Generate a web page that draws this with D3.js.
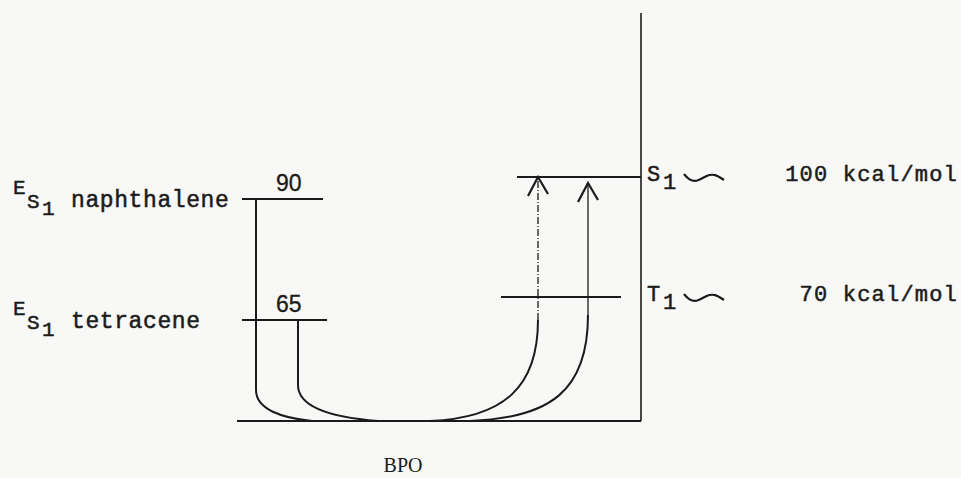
<!DOCTYPE html>
<html>
<head>
<meta charset="utf-8">
<script src="https://cdn.jsdelivr.net/npm/d3@7"></script>
<style>
  body { margin: 0; background: #f8f8f6; }
  svg { display: block; }
  .type { font-family: "Liberation Mono", monospace; fill: #1b1b1b; stroke: #1b1b1b; stroke-width: 0.5px; }
  .num { font-family: "Liberation Sans", sans-serif; fill: #1b1b1b; stroke: #1b1b1b; stroke-width: 0.3px; }
  .serif { font-family: "Liberation Serif", serif; fill: #1b1b1b; }
</style>
</head>
<body>
<svg width="961" height="478"></svg>
<script>
// donor singlet levels (kcal/mol)
var donorNames = ["naphthalene", "tetracene"];
var donorEnergies = [90, 65];

// BPO states
var bpoStates = ["S", "T"];
var bpoEnergies = [100, 70];
var bpoLabels = ["100 kcal/mol", "70 kcal/mol"];

var groundLabel = "BPO";

var svg = d3.select("svg"),
  width = +svg.attr("width"),
  height = +svg.attr("height");

// the drawing is not to scale, so the energy axis is piecewise
var y = d3.scaleLinear()
  .domain([0, 65, 70, 90, 100])
  .range([421, 320, 297, 199, 177]);

var ink = "#1b1b1b";
var axisX = 641, axisTop = 13, baseLeft = 237;

var g = svg.append("g");

// ground line and the BPO axis
g.append("line")
  .attr("x1", baseLeft).attr("x2", axisX)
  .attr("y1", y(0)).attr("y2", y(0))
  .attr("stroke", ink).attr("stroke-width", 2.2);

g.append("line")
  .attr("x1", axisX).attr("x2", axisX)
  .attr("y1", axisTop).attr("y2", y(0))
  .attr("stroke", ink).attr("stroke-width", 1.6);

// donor levels
var donorLine = [[242, 323], [242, 327]];
var donorDrop = [256, 298];

donorEnergies.forEach(function(e, i) {
  g.append("line")
    .attr("x1", donorLine[i][0]).attr("x2", donorLine[i][1])
    .attr("y1", y(e)).attr("y2", y(e))
    .attr("stroke", ink).attr("stroke-width", 1.8);

  g.append("text").attr("class", "num")
    .attr("x", 276).attr("y", y(e) - 8)
    .style("font-size", "23px")
    .text(e);

  // E_S1 name
  g.append("text").attr("class", "type")
    .attr("x", 13).attr("y", y(e) - 5)
    .style("font-size", "21px").text("E");
  g.append("text").attr("class", "type")
    .attr("x", 27).attr("y", y(e) + 9)
    .style("font-size", "21px").text("S");
  g.append("text").attr("class", "type")
    .attr("x", 42).attr("y", y(e) + 16)
    .style("font-size", "21px").text("1");
  g.append("text").attr("class", "type")
    .attr("x", 71).attr("y", y(e) + 8)
    .style("font-size", "23px")
    .style("letter-spacing", "0.6px")
    .text(donorNames[i]);
});

// BPO levels
var bpoLine = [[517, 641], [501, 621]];

bpoEnergies.forEach(function(e, i) {
  g.append("line")
    .attr("x1", bpoLine[i][0]).attr("x2", bpoLine[i][1])
    .attr("y1", y(e)).attr("y2", y(e))
    .attr("stroke", ink).attr("stroke-width", 1.8);

  g.append("text").attr("class", "type")
    .attr("x", 647).attr("y", y(e) + 4)
    .style("font-size", "22px").text(bpoStates[i]);
  g.append("text").attr("class", "type")
    .attr("x", 663).attr("y", y(e) + 12)
    .style("font-size", "22px").text("1");

  // the "~" (approximately) sign
  var wave = d3.line().curve(d3.curveBasis);
  var x0 = 684, yc = y(e) + 1;
  g.append("path")
    .attr("d", wave([[x0, yc - 4], [x0 + 5, yc + 2], [x0 + 13, yc + 4],
                     [x0 + 23, yc - 3], [x0 + 31, yc - 4], [x0 + 40, yc + 2]]))
    .attr("fill", "none").attr("stroke", ink).attr("stroke-width", 2.2);

  g.append("text").attr("class", "type")
    .attr("x", 958).attr("y", y(e) + 4)
    .attr("text-anchor", "end")
    .style("font-size", "22px")
    .style("letter-spacing", "1.2px")
    .text(bpoLabels[i]);
});

// energy transfer paths: down from donor, along ground, up to BPO S1
var riseX = [588, 538];
var apexY = [y(100) + 6, y(100)];

donorEnergies.forEach(function(e, i) {
  var xl = donorDrop[i], xr = riseX[i], yb = y(0);
  var p = d3.path();
  p.moveTo(xl, y(e));
  if (i === 0) {
    p.lineTo(xl, yb - 31);
    p.bezierCurveTo(xl, yb - 12, xl + 25, yb - 3, xl + 56, yb);
    p.lineTo(470, yb);
    p.bezierCurveTo(550, yb - 3, xr, yb - 30, xr, y(65) - 5);
  } else {
    p.lineTo(xl, yb - 36);
    p.bezierCurveTo(xl, yb - 16, xl + 28, yb - 4, xl + 80, yb);
    p.lineTo(430, yb);
    p.bezierCurveTo(505, yb - 3, xr, yb - 35, xr, y(65));
  }
  g.append("path")
    .attr("d", p.toString())
    .attr("fill", "none").attr("stroke", ink).attr("stroke-width", 2);

  // vertical part of the arrow
  g.append("line")
    .attr("x1", xr).attr("x2", xr)
    .attr("y1", i === 0 ? y(65) - 5 : y(65)).attr("y2", apexY[i])
    .attr("stroke", ink).attr("stroke-width", 1.3)
    .attr("stroke-dasharray", i === 1 ? "7,2,1,2" : null);

  // open arrow head
  g.append("path")
    .attr("d", "M" + (xr - 10) + "," + (apexY[i] + 19) +
               "L" + xr + "," + apexY[i] +
               "L" + (xr + 10) + "," + (apexY[i] + 17))
    .attr("fill", "none").attr("stroke", ink).attr("stroke-width", 2.2);
});

g.append("text").attr("class", "serif")
  .attr("x", 403).attr("y", 472)
  .attr("text-anchor", "middle")
  .style("font-size", "20px")
  .text(groundLabel);
</script>
</body>
</html>
